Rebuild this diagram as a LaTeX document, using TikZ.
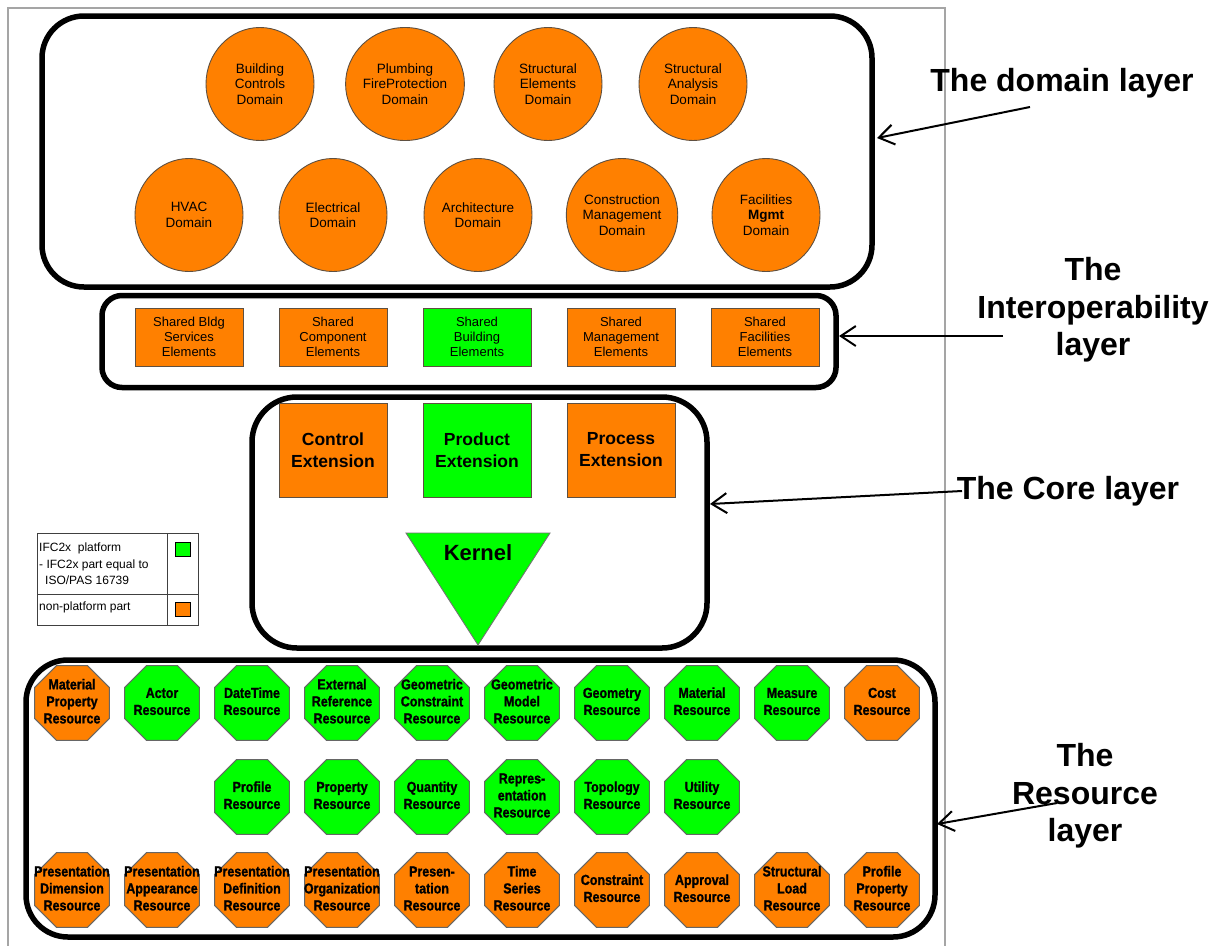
\documentclass[tikz,border=0pt]{standalone}
\usepackage{fontspec}
\setmainfont{Liberation Sans}
\newfontfamily\octfont[FakeStretch=0.86,FakeBold=1.2]{Liberation Sans}
\usetikzlibrary{shapes.geometric,arrows.meta}

\definecolor{ifcorange}{RGB}{255,128,0}
\definecolor{ifcgreen}{RGB}{0,255,0}
\definecolor{framegray}{RGB}{165,165,165}
\definecolor{rimgray}{RGB}{95,80,65}

% text block of an octagon, kept from widening the shape
\newcommand\ostack[1]{\makebox[0pt]{\begin{tabular}{@{}c@{}}#1\end{tabular}}}

\begin{document}
\begin{tikzpicture}[x=1pt,y=-1pt,
  layerbox/.style={draw=black, line width=5.5pt, fill=white, inner sep=0pt},
  domcircle/.style={ellipse, fill=ifcorange, draw=rimgray, line width=0.9pt,
    minimum width=108, minimum height=113, inner sep=0pt, align=center,
    font=\fontsize{13.5}{15.5}\selectfont},
  shared/.style={rectangle, draw=rimgray, line width=0.9pt, minimum width=108,
    minimum height=58, inner sep=0pt, align=center,
    font=\fontsize{13}{15}\selectfont},
  extbox/.style={rectangle, draw=rimgray, line width=0.9pt, minimum width=108,
    minimum height=94, inner sep=0pt, align=center,
    font=\bfseries\fontsize{17.5}{22}\selectfont},
  oct/.style={regular polygon, regular polygon sides=8, minimum size=81,
    inner sep=0pt, draw=black!60, line width=1.1pt,
    font=\octfont\bfseries\fontsize{14.5}{17}\selectfont},
  og/.style={oct, fill=ifcgreen},
  oo/.style={oct, fill=ifcorange},
  layerlabel/.style={align=center, font=\bfseries\fontsize{32}{37.5}\selectfont},
  conn/.style={line width=2pt, -{Straight Barb[length=15pt,width=20pt,line width=2pt]}},
  legtext/.style={anchor=west, align=left, inner sep=0pt, font=\fontsize{12}{16.5}\selectfont},
  legbox/.style={rectangle, draw=black, line width=0.8pt, minimum width=15, minimum height=14, inner sep=0pt}
]
\useasboundingbox (0,0) rectangle (1222,945);
\fill[white] (0,0) rectangle (1222,945);

% page frame
\draw[framegray, line width=2pt] (8,950) -- (8,8) -- (945,8) -- (945,950);

% ---------------- domain layer ----------------
\node[layerbox, rounded corners=42, minimum width=830, minimum height=271] (domainbox) at (457,151.5) {};
\node[domcircle] (bc)  at (260,84)  {Building\\Controls\\Domain};
\node[domcircle] (pf)  at (405,84)  {Plumbing\\FireProtection\\Domain};
\node[domcircle] (se)  at (548,84)  {Structural\\Elements\\Domain};
\node[domcircle] (sa)  at (693,84)  {Structural\\Analysis\\Domain};
\node[domcircle] (hv)  at (189,215) {HVAC\\Domain};
\node[domcircle] (el)  at (333,215) {Electrical\\Domain};
\node[domcircle] (ar)  at (478,215) {Architecture\\Domain};
\node[domcircle] (cm)  at (622,215) {Construction\\Management\\Domain};
\node[domcircle] (fm)  at (766,215) {Facilities\\\textbf{Mgmt}\\Domain};

% ---------------- interoperability layer ----------------
\node[layerbox, rounded corners=20, minimum width=734, minimum height=92] (interbox) at (469,341.5) {};
\node[shared, fill=ifcorange] (sb1) at (189,337) {Shared Bldg\\Services\\Elements};
\node[shared, fill=ifcorange] (sb2) at (333,337) {Shared\\Component\\Elements};
\node[shared, fill=ifcgreen]  (sb3) at (477,337) {Shared\\Building\\Elements};
\node[shared, fill=ifcorange] (sb4) at (621,337) {Shared\\Management\\Elements};
\node[shared, fill=ifcorange] (sb5) at (765,337) {Shared\\Facilities\\Elements};

% ---------------- core layer ----------------
\node[layerbox, rounded corners=45, minimum width=455, minimum height=251] (corebox) at (479.5,522.5) {};
\node[extbox, fill=ifcorange] (ctl) at (333,450) {Control\\Extension};
\node[extbox, fill=ifcgreen]  (prd) at (477,450) {Product\\Extension};
\node[extbox, fill=ifcorange] (prc) at (621,450) {Process\\Extension};
\draw[fill=ifcgreen, draw=black!55, line width=0.9pt] (406,533) -- (550,533) -- (478,645) -- cycle;
\node[font=\bfseries\fontsize{22}{26}\selectfont] (kernel) at (478,553) {Kernel};

% ---------------- legend ----------------
\draw[black!75, line width=0.8pt] (37,533) rectangle (198,625);
\draw[black!75, line width=0.8pt] (167,533) -- (167,625);
\draw[black!75, line width=0.8pt] (37,594) -- (198,594);
\node[legtext] (legplat) at (39,564) {IFC2x\ \ platform\\- IFC2x part equal to\\\hspace*{6pt}ISO/PAS 16739};
\node[legtext] (legnon) at (39,607) {non-platform part};
\node[legbox, fill=ifcgreen]  (leggreen) at (182.5,549.5) {};
\node[legbox, fill=ifcorange] (legorange) at (182.5,609) {};

% ---------------- resource layer ----------------
\node[layerbox, rounded corners=42, minimum width=909, minimum height=277] (resbox) at (480.5,798.5) {};
% first row
\node[oo] (r01) at (72,703)  {\ostack{Material\\Property\\Resource}};
\node[og] (r02) at (162,703) {\ostack{Actor\\Resource}};
\node[og] (r03) at (252,703) {\ostack{DateTime\\Resource}};
\node[og] (r04) at (342,703) {\ostack{External\\Reference\\Resource}};
\node[og] (r05) at (432,703) {\ostack{Geometric\\Constraint\\Resource}};
\node[og] (r06) at (522,703) {\ostack{Geometric\\Model\\Resource}};
\node[og] (r07) at (612,703) {\ostack{Geometry\\Resource}};
\node[og] (r08) at (702,703) {\ostack{Material\\Resource}};
\node[og] (r09) at (792,703) {\ostack{Measure\\Resource}};
\node[oo] (r10) at (882,703) {\ostack{Cost\\Resource}};
% second row
\node[og] (r11) at (252,797) {\ostack{Profile\\Resource}};
\node[og] (r12) at (342,797) {\ostack{Property\\Resource}};
\node[og] (r13) at (432,797) {\ostack{Quantity\\Resource}};
\node[og] (r14) at (522,797) {\ostack{Repres-\\entation\\Resource}};
\node[og] (r15) at (612,797) {\ostack{Topology\\Resource}};
\node[og] (r16) at (702,797) {\ostack{Utility\\Resource}};
% third row
\node[oo] (r21) at (72,890)  {\ostack{Presentation\\Dimension\\Resource}};
\node[oo] (r22) at (162,890) {\ostack{Presentation\\Appearance\\Resource}};
\node[oo] (r23) at (252,890) {\ostack{Presentation\\Definition\\Resource}};
\node[oo] (r24) at (342,890) {\ostack{Presentation\\Organization\\Resource}};
\node[oo] (r25) at (432,890) {\ostack{Presen-\\tation\\Resource}};
\node[oo] (r26) at (522,890) {\ostack{Time\\Series\\Resource}};
\node[oo] (r27) at (612,890) {\ostack{Constraint\\Resource}};
\node[oo] (r28) at (702,890) {\ostack{Approval\\Resource}};
\node[oo] (r29) at (792,890) {\ostack{Structural\\Load\\Resource}};
\node[oo] (r30) at (882,890) {\ostack{Profile\\Property\\Resource}};

% ---------------- layer captions ----------------
\node[layerlabel] (lbdomain) at (1062,83)  {The domain layer};
\node[layerlabel] (lbinter)  at (1093,310) {The\\Interoperability\\layer};
\node[layerlabel] (lbcore)   at (1068,491) {The Core layer};
\node[layerlabel] (lbres)    at (1085,796) {The\\Resource\\layer};

\coordinate (domfrom) at (1030,107);
\coordinate (domto)   at (877,138);
\coordinate (intfrom) at (1003,336);
\coordinate (intto)   at (839,336);
\coordinate (corefrom) at (962,491);
\coordinate (coreto)   at (710,504);
\coordinate (resfrom) at (1057,803);
\coordinate (resto)   at (937,824);

\draw[conn] (domfrom) -- (domto);
\draw[conn] (intfrom) -- (intto);
\draw[conn] (corefrom) -- (coreto);
\draw[conn] (resfrom) -- (resto);
\end{tikzpicture}
\end{document}
